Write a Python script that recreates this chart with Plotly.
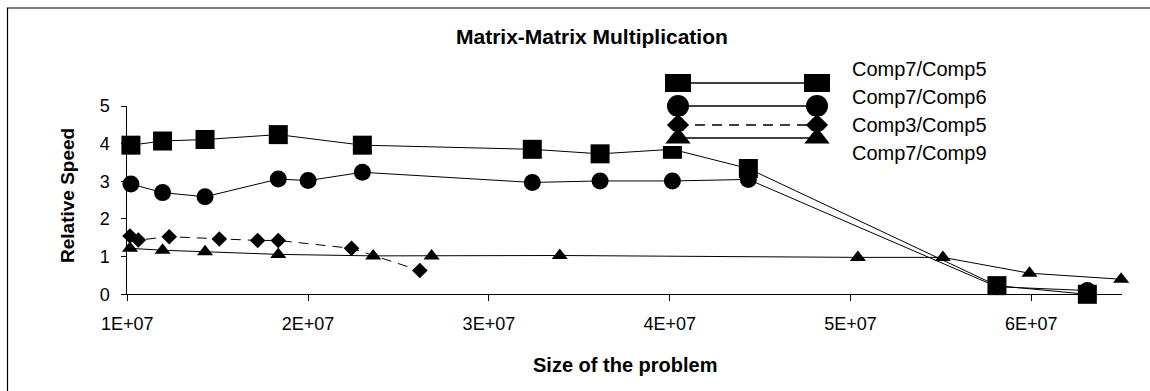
import plotly.graph_objects as go

# Problem sizes and relative speeds for each pair of computers
sq_x = [1.02e7, 1.195e7, 1.43e7, 1.835e7, 2.30e7, 3.24e7, 3.615e7, 4.015e7, 4.435e7, 5.81e7, 6.31e7]
sq_y = [3.96, 4.07, 4.11, 4.24, 3.96, 3.85, 3.73, 3.85, 3.34, 0.23, 0.0]

ci_x = [1.02e7, 1.195e7, 1.43e7, 1.835e7, 2.0e7, 2.30e7, 3.24e7, 3.615e7, 4.015e7, 4.435e7, 5.81e7, 6.31e7]
ci_y = [2.93, 2.70, 2.59, 3.06, 3.02, 3.24, 2.97, 3.01, 3.01, 3.05, 0.20, 0.10]

di_x = [1.015e7, 1.061e7, 1.232e7, 1.509e7, 1.721e7, 1.835e7, 2.24e7, 2.618e7]
di_y = [1.55, 1.44, 1.53, 1.47, 1.43, 1.43, 1.22, 0.63]

tr_x = [1.015e7, 1.195e7, 1.43e7, 1.835e7, 2.36e7, 2.683e7, 3.392e7, 5.041e7, 5.511e7, 5.99e7, 6.497e7]
tr_y = [1.22, 1.17, 1.13, 1.06, 1.02, 1.02, 1.03, 0.98, 0.98, 0.56, 0.40]

series_names = ["Comp7/Comp5", "Comp7/Comp6", "Comp3/Comp5", "Comp7/Comp9"]
x_ticks = [1e7, 2e7, 3e7, 4e7, 5e7, 6e7]
x_tick_text = ["1E+07", "2E+07", "3E+07", "4E+07", "5E+07", "6E+07"]
y_ticks = [0, 1, 2, 3, 4, 5]

W, H = 1150, 391
FONT = "Liberation Sans, Arial, sans-serif"

def px_x(p):
    return p / W

def px_y(p):
    return 1 - p / H

fig = go.Figure()

series = [
    (sq_x, sq_y, "square", 19, "solid"),
    (ci_x, ci_y, "circle", 17, "solid"),
    (di_x, di_y, "diamond", 12, "10px,7px"),
    (tr_x, tr_y, "triangle-up", 14, "solid"),
]
for (xs, ys, sym, size, dash), name in zip(series, series_names):
    fig.add_trace(go.Scatter(
        x=xs, y=ys, name=name, mode="lines+markers",
        line=dict(color="black", width=1, dash=dash),
        marker=dict(symbol=sym, size=size, color="black"),
        cliponaxis=False, showlegend=False,
        xaxis="x", yaxis="y",
    ))

# Legend keys: each row is its own small subplot so the oversized markers are clipped to the row
legend_rows = [
    # (center, top, bottom, symbol, size, dash)
    (83, 74, 92, "square", 26, "solid"),
    (106, 95, 116, "circle", 22, "solid"),
    (125, 116, 133, "diamond", 17, "10px,7px"),
    (138, 131, 146, "triangle-up", 22, "solid"),
]
key_left, key_right = 678, 817
layout_axes = {}
for i, (cy, top, bot, sym, size, dash) in enumerate(legend_rows):
    n = i + 2
    fig.add_trace(go.Scatter(
        x=[key_left, key_right], y=[cy, cy], mode="lines+markers",
        line=dict(color="black", width=1.3, dash=dash),
        marker=dict(symbol=sym, size=size, color="black"),
        cliponaxis=True, showlegend=False, hoverinfo="skip",
        xaxis=f"x{n}", yaxis=f"y{n}",
    ))
    layout_axes[f"xaxis{n}"] = dict(domain=[px_x(655), px_x(840)], range=[655, 840],
                                    visible=False, anchor=f"y{n}", automargin=False)
    layout_axes[f"yaxis{n}"] = dict(domain=[px_y(bot), px_y(top)], range=[bot, top],
                                    visible=False, anchor=f"x{n}", automargin=False)

legend_text_y = [69, 97, 125, 153]
annotations = []
for name, ty in zip(series_names, legend_text_y):
    annotations.append(dict(
        text=name, xref="paper", yref="paper", x=px_x(850), y=px_y(ty),
        xanchor="left", yanchor="middle", showarrow=False,
        font=dict(family=FONT, size=20, color="black"),
    ))

annotations += [
    dict(text="<b>Matrix-Matrix Multiplication</b>", xref="paper", yref="paper",
         x=px_x(592), y=px_y(37), xanchor="center", yanchor="middle", showarrow=False,
         font=dict(family=FONT, size=21, color="black")),
    dict(text="<b>Size of the problem</b>", xref="paper", yref="paper",
         x=px_x(625), y=px_y(365), xanchor="center", yanchor="middle", showarrow=False,
         font=dict(family=FONT, size=20, color="black")),
    dict(text="<b>Relative Speed</b>", xref="paper", yref="paper",
         x=px_x(67), y=px_y(196), xanchor="center", yanchor="middle", showarrow=False,
         textangle=-90, font=dict(family=FONT, size=19, color="black")),
]

fig.update_layout(
    template="none",
    width=W, height=H, autosize=False,
    margin=dict(l=0, r=0, t=0, b=0, pad=0),
    paper_bgcolor="white", plot_bgcolor="white",
    showlegend=False,
    xaxis=dict(
        domain=[px_x(127.3), px_x(1121.7)], range=[1e7, 6.5e7],
        tickvals=x_ticks, ticktext=x_tick_text,
        ticks="outside", ticklen=6, tickcolor="black", tickwidth=1,
        showline=True, linecolor="black", linewidth=1,
        showgrid=False, zeroline=False, anchor="y", automargin=False,
        tickfont=dict(family=FONT, size=18, color="black"),
        ticklabelstandoff=7,
    ),
    yaxis=dict(
        domain=[px_y(294.3), px_y(106)], range=[0, 5],
        tickvals=y_ticks,
        ticks="outside", ticklen=5, tickcolor="black", tickwidth=1,
        showline=True, linecolor="black", linewidth=1,
        showgrid=False, zeroline=False, anchor="x", automargin=False,
        tickfont=dict(family=FONT, size=18, color="black"),
        ticklabelstandoff=8,
    ),
    annotations=annotations,
    shapes=[dict(type="rect", xref="paper", yref="paper",
                 x0=px_x(7.5), x1=1.05, y0=-0.05, y1=px_y(8),
                 line=dict(color="black", width=1.2), fillcolor="rgba(0,0,0,0)")],
    **layout_axes,
)

fig.write_html("out.html")
